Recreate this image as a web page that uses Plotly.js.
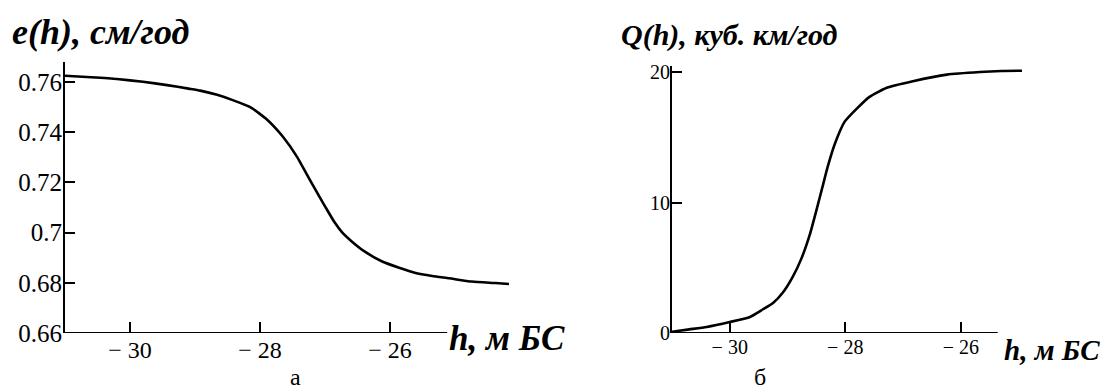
<!DOCTYPE html>
<html>
<head>
<meta charset="utf-8">
<script src="https://cdn.plot.ly/plotly-3.0.1.min.js"></script>
<style>
html,body{margin:0;padding:0;background:#fff;}
#chart{width:1105px;height:391px;}
</style>
</head>
<body>
<div id="chart"></div>
<script>
// Panel (а): evaporation e(h), см/год
const hE = [-31.0, -30.6, -30.2, -29.8, -29.43, -29.1, -28.92, -28.66, -28.42, -28.15, -27.89, -27.65, -27.43, -27.28, -27.15, -27.0, -26.85, -26.74, -26.58, -26.38, -26.12, -25.86, -25.62, -25.35, -25.09, -24.74, -24.38, -24.17];
const eVals = [0.7625, 0.7619, 0.7612, 0.7601, 0.7588, 0.7574, 0.7566, 0.7549, 0.7528, 0.7500, 0.7450, 0.7383, 0.7302, 0.7232, 0.7172, 0.7105, 0.7040, 0.7002, 0.6963, 0.6923, 0.6885, 0.6860, 0.6840, 0.6827, 0.6818, 0.6805, 0.6799, 0.6795];

// Panel (б): inflow Q(h), куб. км/год
const hQ = [-31.0, -30.7, -30.4, -30.0, -29.65, -29.43, -29.25, -29.08, -28.91, -28.76, -28.61, -28.5, -28.4, -28.3, -28.18, -28.01, -27.8, -27.58, -27.28, -26.83, -26.24, -25.67, -25.3, -24.94];
const qVals = [0.1, 0.28, 0.46, 0.84, 1.23, 1.8, 2.3, 3.1, 4.3, 5.7, 7.6, 9.4, 11.1, 12.8, 14.5, 16.2, 17.2, 18.1, 18.8, 19.3, 19.8, 20.0, 20.08, 20.1];

// Tick labels
const xTickVals = [-30, -28, -26];
const xTickText = ["\u2212 30", "\u2212 28", "\u2212 26"];
const eTickVals = [0.66, 0.68, 0.70, 0.72, 0.74, 0.76];
const eTickText = ["0.66", "0.68", "0.7", "0.72", "0.74", "0.76"];
const qTickVals = [0, 10, 20];
const qTickText = ["0", "10", "20"];

// Texts
const titleE = "e(h), см/год";
const titleQ = "Q(h), куб. км/год";
const xLabel = "h, м БС";
const panelA = "а";
const panelB = "б";

const W = 1105, H = 391;
const px = v => v / W;
const py = v => 1 - v / H;

const serif = "'Times New Roman', 'Liberation Serif', 'DejaVu Serif', serif";
const ink = "#000";

const traces = [
  {x: hE, y: eVals, xaxis: "x", yaxis: "y", mode: "lines",
   line: {color: ink, width: 2.6, shape: "spline", smoothing: 0.5}, hoverinfo: "skip"},
  {x: hQ, y: qVals, xaxis: "x2", yaxis: "y2", mode: "lines",
   line: {color: ink, width: 2.6, shape: "spline", smoothing: 0.5}, hoverinfo: "skip"}
];

const xCommon = {
  showgrid: false, zeroline: false, showline: false,
  ticks: "inside", ticklen: 11, tickwidth: 2, tickcolor: ink,
  tickmode: "array", tickvals: xTickVals, ticktext: xTickText,
  fixedrange: true
};
const yCommon = {
  showgrid: false, zeroline: false, showline: true, linecolor: ink, linewidth: 2,
  ticks: "inside", ticklen: 10, tickwidth: 2, tickcolor: ink,
  tickmode: "array", fixedrange: true, ticklabelstandoff: -4
};

const layout = {
  width: W, height: H,
  margin: {l: 0, r: 0, t: 0, b: 0},
  paper_bgcolor: "#fff", plot_bgcolor: "#fff",
  showlegend: false,
  font: {family: serif, color: ink},
  xaxis: Object.assign({}, xCommon, {
    domain: [px(65), px(513.5)], range: [-31, -24.1], anchor: "y",
    tickfont: {family: serif, size: 24, color: ink}
  }),
  yaxis: Object.assign({}, yCommon, {
    domain: [py(333), py(62)], range: [0.66, 0.768], anchor: "x",
    tickvals: eTickVals, ticktext: eTickText,
    tickfont: {family: serif, size: 25, color: ink}
  }),
  xaxis2: Object.assign({}, xCommon, {
    domain: [px(672), px(1024.3)], range: [-31, -24.9], anchor: "y2",
    tickfont: {family: serif, size: 20, color: ink}
  }),
  yaxis2: Object.assign({}, yCommon, {
    domain: [py(333), py(65.5)], range: [0, 20.5], anchor: "x2",
    tickvals: qTickVals, ticktext: qTickText,
    tickfont: {family: serif, size: 20, color: ink}
  }),
  shapes: [
    {type: "line", xref: "x", yref: "y", x0: -31, x1: -25.12, y0: 0.66, y1: 0.66,
     line: {color: ink, width: 2}},
    {type: "line", xref: "x2", yref: "y2", x0: -31, x1: -25.36, y0: 0, y1: 0,
     line: {color: ink, width: 2}}
  ],
  annotations: [
    {text: "<b><i>" + titleE + "</i></b>", xref: "paper", yref: "paper",
     x: px(10), y: py(32), xanchor: "left", yanchor: "middle", showarrow: false,
     font: {family: serif, size: 36, color: ink}},
    {text: "<b><i>" + titleQ + "</i></b>", xref: "paper", yref: "paper",
     x: px(619), y: py(35), xanchor: "left", yanchor: "middle", showarrow: false,
     font: {family: serif, size: 30, color: ink}},
    {text: "<b><i>" + xLabel + "</i></b>", xref: "paper", yref: "paper",
     x: px(447), y: py(338), xanchor: "left", yanchor: "middle", showarrow: false,
     font: {family: serif, size: 35, color: ink}},
    {text: "<b><i>" + xLabel + "</i></b>", xref: "paper", yref: "paper",
     x: px(1002), y: py(350), xanchor: "left", yanchor: "middle", showarrow: false,
     font: {family: serif, size: 29, color: ink}},
    {text: panelA, xref: "paper", yref: "paper",
     x: px(295), y: py(377), xanchor: "center", yanchor: "middle", showarrow: false,
     font: {family: serif, size: 24, color: ink}},
    {text: panelB, xref: "paper", yref: "paper",
     x: px(760), y: py(377), xanchor: "center", yanchor: "middle", showarrow: false,
     font: {family: serif, size: 24, color: ink}}
  ]
};

Plotly.newPlot("chart", traces, layout, {displayModeBar: false, staticPlot: true});
</script>
</body>
</html>
